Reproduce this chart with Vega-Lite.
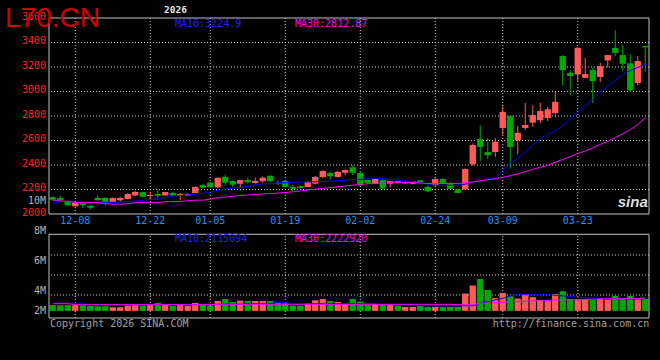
{
  "$schema": "https://vega.github.io/schema/vega-lite/v6.json",
  "width": 600,
  "height": 300,
  "autosize": {"type": "none"},
  "padding": {"left": 49, "top": 18, "right": 11, "bottom": 42},
  "background": "#000000",
  "config": {"view": {"stroke": null}, "font": "DejaVu Sans Mono"},
  "datasets": {
    "k": [
      {"d":"2025-12-03","o":2135,"h":2145,"l":2107,"c":2118,"v":1013000,"m10":2088,"m30":2114,"vm10":1315000,"vm30":1244000},
      {"d":"2025-12-04","o":2128,"h":2148,"l":2107,"c":2116,"v":924000,"m10":2100,"m30":2107,"vm10":1315000,"vm30":1244000},
      {"d":"2025-12-05","o":2104,"h":2107,"l":2066,"c":2072,"v":924000,"m10":2102,"m30":2104,"vm10":1315000,"vm30":1244000},
      {"d":"2025-12-08","o":2064,"h":2096,"l":2062,"c":2094,"v":924000,"m10":2094,"m30":2094,"vm10":1315000,"vm30":1066000},
      {"d":"2025-12-09","o":2086,"h":2091,"l":2050,"c":2072,"v":924000,"m10":2092,"m30":2094,"vm10":1315000,"vm30":1066000},
      {"d":"2025-12-10","o":2066,"h":2072,"l":2035,"c":2053,"v":835000,"m10":2092,"m30":2094,"vm10":960000,"vm30":1066000},
      {"d":"2025-12-11","o":2131,"h":2153,"l":2109,"c":2113,"v":746000,"m10":2093,"m30":2092,"vm10":960000,"vm30":1066000},
      {"d":"2025-12-12","o":2131,"h":2137,"l":2072,"c":2099,"v":746000,"m10":2095,"m30":2084,"vm10":960000,"vm30":1066000},
      {"d":"2025-12-15","o":2099,"h":2134,"l":2096,"c":2131,"v":569000,"m10":2096,"m30":2080,"vm10":960000,"vm30":1066000},
      {"d":"2025-12-16","o":2113,"h":2140,"l":2099,"c":2131,"v":569000,"m10":2097,"m30":2080,"vm10":960000,"vm30":1066000},
      {"d":"2025-12-17","o":2123,"h":2170,"l":2118,"c":2162,"v":924000,"m10":2100,"m30":2084,"vm10":960000,"vm30":1066000},
      {"d":"2025-12-18","o":2153,"h":2186,"l":2148,"c":2180,"v":1155000,"m10":2106,"m30":2092,"vm10":1066000,"vm30":1066000},
      {"d":"2025-12-19","o":2176,"h":2180,"l":2135,"c":2143,"v":871000,"m10":2112,"m30":2094,"vm10":1066000,"vm30":1066000},
      {"d":"2025-12-22","o":2147,"h":2176,"l":2113,"c":2155,"v":1155000,"m10":2118,"m30":2094,"vm10":1066000,"vm30":1066000},
      {"d":"2025-12-23","o":2162,"h":2194,"l":2127,"c":2151,"v":1368000,"m10":2122,"m30":2094,"vm10":1066000,"vm30":1066000},
      {"d":"2025-12-24","o":2153,"h":2180,"l":2151,"c":2178,"v":1191000,"m10":2137,"m30":2100,"vm10":1066000,"vm30":1066000},
      {"d":"2025-12-25","o":2172,"h":2180,"l":2149,"c":2153,"v":835000,"m10":2145,"m30":2102,"vm10":1066000,"vm30":1066000},
      {"d":"2025-12-26","o":2151,"h":2172,"l":2113,"c":2162,"v":1191000,"m10":2150,"m30":2102,"vm10":1066000,"vm30":1066000},
      {"d":"2025-12-29","o":2151,"h":2170,"l":2145,"c":2162,"v":835000,"m10":2155,"m30":2108,"vm10":1066000,"vm30":1066000},
      {"d":"2025-12-30","o":2172,"h":2224,"l":2170,"c":2221,"v":1368000,"m10":2162,"m30":2113,"vm10":1066000,"vm30":1066000},
      {"d":"2025-12-31","o":2235,"h":2243,"l":2207,"c":2215,"v":1191000,"m10":2168,"m30":2113,"vm10":1155000,"vm30":1066000},
      {"d":"2026-01-05","o":2255,"h":2260,"l":2213,"c":2219,"v":889000,"m10":2180,"m30":2121,"vm10":1155000,"vm30":1066000},
      {"d":"2026-01-06","o":2219,"h":2300,"l":2211,"c":2295,"v":1724000,"m10":2194,"m30":2133,"vm10":1155000,"vm30":1137000},
      {"d":"2026-01-07","o":2303,"h":2322,"l":2235,"c":2257,"v":2079000,"m10":2202,"m30":2139,"vm10":1155000,"vm30":1137000},
      {"d":"2026-01-08","o":2268,"h":2276,"l":2221,"c":2241,"v":1546000,"m10":2211,"m30":2145,"vm10":1155000,"vm30":1137000},
      {"d":"2026-01-09","o":2249,"h":2278,"l":2221,"c":2276,"v":1759000,"m10":2216,"m30":2151,"vm10":1155000,"vm30":1137000},
      {"d":"2026-01-12","o":2276,"h":2298,"l":2249,"c":2260,"v":1724000,"m10":2227,"m30":2155,"vm10":1244000,"vm30":1137000},
      {"d":"2026-01-13","o":2254,"h":2298,"l":2249,"c":2270,"v":1724000,"m10":2239,"m30":2160,"vm10":1244000,"vm30":1137000},
      {"d":"2026-01-14","o":2268,"h":2309,"l":2257,"c":2295,"v":1724000,"m10":2245,"m30":2164,"vm10":1244000,"vm30":1137000},
      {"d":"2026-01-15","o":2311,"h":2317,"l":2260,"c":2268,"v":1724000,"m10":2249,"m30":2167,"vm10":1244000,"vm30":1137000},
      {"d":"2026-01-16","o":2254,"h":2276,"l":2235,"c":2246,"v":1475000,"m10":2252,"m30":2171,"vm10":1493000,"vm30":1137000},
      {"d":"2026-01-19","o":2268,"h":2276,"l":2216,"c":2221,"v":1279000,"m10":2255,"m30":2176,"vm10":1493000,"vm30":1137000},
      {"d":"2026-01-20","o":2221,"h":2235,"l":2180,"c":2208,"v":889000,"m10":2257,"m30":2181,"vm10":1244000,"vm30":1137000},
      {"d":"2026-01-21","o":2224,"h":2233,"l":2208,"c":2213,"v":889000,"m10":2260,"m30":2188,"vm10":1244000,"vm30":1137000},
      {"d":"2026-01-22","o":2221,"h":2265,"l":2219,"c":2262,"v":1368000,"m10":2261,"m30":2198,"vm10":1244000,"vm30":1137000},
      {"d":"2026-01-23","o":2249,"h":2309,"l":2243,"c":2303,"v":1813000,"m10":2263,"m30":2202,"vm10":1244000,"vm30":1137000},
      {"d":"2026-01-26","o":2303,"h":2358,"l":2295,"c":2349,"v":2079000,"m10":2265,"m30":2209,"vm10":1244000,"vm30":1137000},
      {"d":"2026-01-27","o":2335,"h":2344,"l":2282,"c":2309,"v":1724000,"m10":2268,"m30":2215,"vm10":1244000,"vm30":1137000},
      {"d":"2026-01-28","o":2303,"h":2349,"l":2298,"c":2344,"v":1546000,"m10":2272,"m30":2222,"vm10":1244000,"vm30":1137000},
      {"d":"2026-01-29","o":2339,"h":2363,"l":2317,"c":2358,"v":1191000,"m10":2276,"m30":2229,"vm10":1244000,"vm30":1137000},
      {"d":"2026-01-30","o":2380,"h":2398,"l":2317,"c":2339,"v":2079000,"m10":2281,"m30":2235,"vm10":1244000,"vm30":1137000},
      {"d":"2026-02-02","o":2335,"h":2352,"l":2227,"c":2235,"v":1599000,"m10":2282,"m30":2241,"vm10":1244000,"vm30":1137000},
      {"d":"2026-02-03","o":2276,"h":2284,"l":2243,"c":2255,"v":1066000,"m10":2286,"m30":2247,"vm10":1244000,"vm30":1137000},
      {"d":"2026-02-04","o":2251,"h":2295,"l":2245,"c":2290,"v":1191000,"m10":2290,"m30":2250,"vm10":1244000,"vm30":1137000},
      {"d":"2026-02-05","o":2276,"h":2284,"l":2194,"c":2211,"v":1191000,"m10":2290,"m30":2252,"vm10":1066000,"vm30":1137000},
      {"d":"2026-02-06","o":2249,"h":2272,"l":2219,"c":2268,"v":1191000,"m10":2282,"m30":2255,"vm10":1066000,"vm30":1137000},
      {"d":"2026-02-09","o":2268,"h":2276,"l":2243,"c":2254,"v":889000,"m10":2276,"m30":2256,"vm10":1066000,"vm30":1137000},
      {"d":"2026-02-10","o":2251,"h":2268,"l":2243,"c":2262,"v":657000,"m10":2270,"m30":2257,"vm10":1066000,"vm30":1137000},
      {"d":"2026-02-11","o":2249,"h":2272,"l":2243,"c":2268,"v":657000,"m10":2265,"m30":2257,"vm10":1066000,"vm30":1137000},
      {"d":"2026-02-12","o":2273,"h":2276,"l":2251,"c":2260,"v":889000,"m10":2255,"m30":2253,"vm10":889000,"vm30":1137000},
      {"d":"2026-02-13","o":2221,"h":2235,"l":2178,"c":2186,"v":657000,"m10":2243,"m30":2249,"vm10":889000,"vm30":1137000},
      {"d":"2026-02-24","o":2235,"h":2303,"l":2227,"c":2284,"v":657000,"m10":2235,"m30":2249,"vm10":889000,"vm30":1137000},
      {"d":"2026-02-25","o":2284,"h":2295,"l":2243,"c":2249,"v":657000,"m10":2235,"m30":2249,"vm10":889000,"vm30":1137000},
      {"d":"2026-02-26","o":2249,"h":2262,"l":2200,"c":2208,"v":657000,"m10":2235,"m30":2249,"vm10":889000,"vm30":1137000},
      {"d":"2026-02-27","o":2200,"h":2202,"l":2170,"c":2172,"v":657000,"m10":2235,"m30":2249,"vm10":889000,"vm30":1066000},
      {"d":"2026-03-02","o":2202,"h":2374,"l":2194,"c":2366,"v":3021000,"m10":2243,"m30":2255,"vm10":889000,"vm30":1066000},
      {"d":"2026-03-03","o":2407,"h":2576,"l":2393,"c":2562,"v":4443000,"m10":2255,"m30":2262,"vm10":889000,"vm30":1066000},
      {"d":"2026-03-04","o":2611,"h":2725,"l":2433,"c":2548,"v":5633000,"m10":2272,"m30":2271,"vm10":1315000,"vm30":1315000},
      {"d":"2026-03-05","o":2504,"h":2621,"l":2447,"c":2480,"v":3678000,"m10":2287,"m30":2280,"vm10":1599000,"vm30":1368000},
      {"d":"2026-03-06","o":2507,"h":2621,"l":2466,"c":2589,"v":2186000,"m10":2300,"m30":2288,"vm10":1901000,"vm30":1422000},
      {"d":"2026-03-09","o":2703,"h":2880,"l":2643,"c":2831,"v":3145000,"m10":2353,"m30":2300,"vm10":2203000,"vm30":1510000},
      {"d":"2026-03-10","o":2798,"h":2805,"l":2371,"c":2548,"v":2577000,"m10":2415,"m30":2313,"vm10":2612000,"vm30":1599000},
      {"d":"2026-03-11","o":2602,"h":2717,"l":2488,"c":2662,"v":2132000,"m10":2455,"m30":2328,"vm10":2843000,"vm30":1635000},
      {"d":"2026-03-12","o":2703,"h":2907,"l":2684,"c":2725,"v":2968000,"m10":2509,"m30":2346,"vm10":2843000,"vm30":1670000},
      {"d":"2026-03-13","o":2747,"h":2888,"l":2711,"c":2806,"v":2363000,"m10":2562,"m30":2364,"vm10":2843000,"vm30":1724000},
      {"d":"2026-03-16","o":2766,"h":2907,"l":2744,"c":2839,"v":1901000,"m10":2615,"m30":2382,"vm10":2843000,"vm30":1777000},
      {"d":"2026-03-17","o":2784,"h":2874,"l":2760,"c":2853,"v":1688000,"m10":2651,"m30":2398,"vm10":2843000,"vm30":1830000},
      {"d":"2026-03-18","o":2825,"h":2997,"l":2788,"c":2915,"v":2968000,"m10":2680,"m30":2423,"vm10":2754000,"vm30":1901000},
      {"d":"2026-03-19","o":3288,"h":3296,"l":3051,"c":3174,"v":3430000,"m10":2721,"m30":2445,"vm10":2630000,"vm30":1919000},
      {"d":"2026-03-20","o":3152,"h":3174,"l":2970,"c":3127,"v":2079000,"m10":2780,"m30":2468,"vm10":2488000,"vm30":1937000},
      {"d":"2026-03-23","o":3141,"h":3364,"l":3086,"c":3356,"v":2079000,"m10":2831,"m30":2493,"vm10":2363000,"vm30":1955000},
      {"d":"2026-03-24","o":3114,"h":3274,"l":3106,"c":3141,"v":2044000,"m10":2884,"m30":2515,"vm10":2275000,"vm30":1990000},
      {"d":"2026-03-25","o":3174,"h":3196,"l":2907,"c":3086,"v":1901000,"m10":2937,"m30":2540,"vm10":2239000,"vm30":2044000},
      {"d":"2026-03-26","o":3119,"h":3233,"l":3078,"c":3206,"v":2044000,"m10":2998,"m30":2568,"vm10":2203000,"vm30":2079000},
      {"d":"2026-03-27","o":3255,"h":3296,"l":3196,"c":3296,"v":1955000,"m10":3041,"m30":2594,"vm10":2185000,"vm30":2097000},
      {"d":"2026-03-30","o":3356,"h":3500,"l":3288,"c":3315,"v":2612000,"m10":3090,"m30":2623,"vm10":2168000,"vm30":2115000},
      {"d":"2026-03-31","o":3296,"h":3378,"l":3168,"c":3228,"v":2044000,"m10":3141,"m30":2655,"vm10":2150000,"vm30":2132000},
      {"d":"2026-04-01","o":3228,"h":3304,"l":2997,"c":3011,"v":2612000,"m10":3172,"m30":2688,"vm10":2132000,"vm30":2168000},
      {"d":"2026-04-02","o":3070,"h":3288,"l":3051,"c":3247,"v":2008000,"m10":3196,"m30":2730,"vm10":2120000,"vm30":2186000},
      {"d":"2026-04-03","o":3370,"h":3372,"l":3160,"c":3362,"v":2079000,"m10":3225,"m30":2785,"vm10":2115000,"vm30":2223000}
    ],
    "pl": [
      {"p":2000,"t":"2000"},{"p":2200,"t":"2200"},{"p":2400,"t":"2400"},{"p":2600,"t":"2600"},
      {"p":2800,"t":"2800"},{"p":3000,"t":"3000"},{"p":3200,"t":"3200"},{"p":3400,"t":"3400"},{"p":3600,"t":"3600"}
    ],
    "dl": [
      {"d":"2025-12-08","t":"12-08"},{"d":"2025-12-22","t":"12-22"},{"d":"2026-01-05","t":"01-05"},{"d":"2026-01-19","t":"01-19"},
      {"d":"2026-02-02","t":"02-02"},{"d":"2026-02-24","t":"02-24"},{"d":"2026-03-09","t":"03-09"},{"d":"2026-03-23","t":"03-23"}
    ],
    "vg": [{"v":2790000},{"v":6344000},{"v":9898000}],
    "vl": [
      {"t":"10M","v":19547000},
      {"t":"8M","v":14216000},
      {"t":"6M","v":8885000},
      {"t":"4M","v":3554000},
      {"t":"2M","v":0}
    ]
  },
  "layer": [
    {
      "data": {"name": "k"},
      "layer": [
        {
          "mark": {"type": "bar", "size": 6},
          "encoding": {
            "x": {"field": "d", "type": "ordinal", "scale": {"type": "band", "paddingInner": 0, "paddingOuter": 0}, "axis": null},
            "y": {"field": "o", "type": "quantitative", "scale": {"domain": [2000, 3600], "range": [196, 0], "nice": false, "zero": false}, "axis": null},
            "y2": {"field": "c"},
            "color": {"condition": {"test": "datum.c >= datum.o", "value": "#ff5a5a"}, "value": "#00a800"}
          }
        },
        {
          "data": {"name": "pl"},
          "transform": [{"filter": "datum.p > 2000 && datum.p < 3600"}],
          "mark": {"type": "rule", "color": "#d0d0d0", "strokeDash": [1, 2], "strokeWidth": 1},
          "encoding": {"y": {"field": "p", "type": "quantitative", "axis": null}}
        },
        {
          "data": {"name": "dl"},
          "mark": {"type": "rule", "color": "#d0d0d0", "strokeDash": [1, 2], "strokeWidth": 1},
          "encoding": {
            "x": {"field": "d", "type": "ordinal", "axis": null},
            "y": {"datum": 2000, "axis": null},
            "y2": {"datum": 3600}
          }
        },
        {
          "mark": {"type": "rule", "strokeWidth": 1},
          "encoding": {
            "x": {"field": "d", "type": "ordinal", "axis": null},
            "y": {"field": "l", "type": "quantitative", "axis": null},
            "y2": {"field": "h"},
            "color": {"condition": {"test": "datum.c >= datum.o", "value": "#ff5a5a"}, "value": "#00a800"}
          }
        },
        {
          "mark": {"type": "bar", "size": 6},
          "encoding": {
            "x": {"field": "d", "type": "ordinal", "axis": null},
            "y": {"field": "o", "type": "quantitative", "axis": null},
            "y2": {"field": "c"},
            "color": {"condition": {"test": "datum.c >= datum.o", "value": "#ff5a5a"}, "value": "#00a800"}
          }
        },
        {
          "mark": {"type": "line", "color": "#0000ff", "strokeWidth": 1},
          "encoding": {
            "x": {"field": "d", "type": "ordinal", "axis": null},
            "y": {"field": "m10", "type": "quantitative", "axis": null}
          }
        },
        {
          "mark": {"type": "line", "color": "#ff00ff", "strokeWidth": 1},
          "encoding": {
            "x": {"field": "d", "type": "ordinal", "axis": null},
            "y": {"field": "m30", "type": "quantitative", "axis": null}
          }
        },
        {
          "data": {"values": [{}]},
          "mark": {"type": "rule", "color": "#c0c0c0", "strokeWidth": 1},
          "encoding": {"y": {"datum": 3600, "axis": null}}
        },
        {
          "data": {"values": [{}]},
          "mark": {"type": "rule", "color": "#c0c0c0", "strokeWidth": 1},
          "encoding": {"y": {"datum": 2000, "axis": null}}
        },
        {
          "data": {"values": [{}]},
          "mark": {"type": "rule", "color": "#c0c0c0", "strokeWidth": 1},
          "encoding": {
            "x": {"datum": "2026-04-03", "type": "ordinal", "bandPosition": 1, "axis": null},
            "y": {"datum": 2000, "axis": null},
            "y2": {"datum": 3600}
          }
        },
        {
          "data": {"values": [{}]},
          "mark": {"type": "rule", "color": "#c0c0c0", "strokeWidth": 1},
          "encoding": {
            "x": {"datum": "2025-12-03", "type": "ordinal", "bandPosition": 0, "axis": null},
            "y": {"datum": 2000, "axis": null},
            "y2": {"datum": 3600}
          }
        },
        {
          "data": {"name": "pl"},
          "mark": {"type": "text", "font": "DejaVu Sans Mono", "fontSize": 10, "color": "#ff2020", "align": "right", "baseline": "middle", "dx": -6.75, "dy": -1.5},
          "encoding": {
            "x": {"datum": "2025-12-03", "type": "ordinal", "axis": null},
            "y": {"field": "p", "type": "quantitative", "axis": null},
            "text": {"field": "t"}
          }
        },
        {
          "data": {"name": "dl"},
          "mark": {"type": "text", "font": "DejaVu Sans Mono", "fontSize": 10, "color": "#1e90ff", "align": "center", "baseline": "alphabetic", "dy": 10},
          "encoding": {
            "x": {"field": "d", "type": "ordinal", "axis": null},
            "y": {"datum": 2000, "axis": null},
            "text": {"field": "t"}
          }
        },
        {
          "data": {"values": [{}]},
          "mark": {"type": "text", "text": "L70.CN", "font": "Liberation Sans", "fontSize": 28, "color": "#d40000", "align": "left", "baseline": "alphabetic", "dx": -47.75, "dy": 9},
          "encoding": {"x": {"datum": "2025-12-03", "type": "ordinal", "axis": null}, "y": {"datum": 3600, "axis": null}}
        },
        {
          "data": {"values": [{}]},
          "mark": {"type": "text", "text": "2026", "font": "DejaVu Sans Mono", "fontSize": 9.5, "fontWeight": "bold", "color": "#e8e8e8", "align": "center", "baseline": "alphabetic", "dx": 122.75, "dy": -4.7},
          "encoding": {"x": {"datum": "2025-12-03", "type": "ordinal", "axis": null}, "y": {"datum": 3600, "axis": null}}
        },
        {
          "data": {"values": [{}]},
          "mark": {"type": "text", "text": "MA10:3224.9", "font": "DejaVu Sans Mono", "fontSize": 10, "color": "#2020ff", "align": "left", "baseline": "alphabetic", "dx": 122.25, "dy": 9},
          "encoding": {"x": {"datum": "2025-12-03", "type": "ordinal", "axis": null}, "y": {"datum": 3600, "axis": null}}
        },
        {
          "data": {"values": [{}]},
          "mark": {"type": "text", "text": "MA30:2812.87", "font": "DejaVu Sans Mono", "fontSize": 10, "color": "#ff00ff", "align": "left", "baseline": "alphabetic", "dx": 242.25, "dy": 9},
          "encoding": {"x": {"datum": "2025-12-03", "type": "ordinal", "axis": null}, "y": {"datum": 3600, "axis": null}}
        },
        {
          "data": {"values": [{}]},
          "mark": {"type": "text", "text": "sina", "font": "Liberation Sans", "fontSize": 15, "fontWeight": "bold", "fontStyle": "italic", "color": "#dcdcdc", "align": "right", "baseline": "alphabetic", "dx": 2.5, "dy": -7},
          "encoding": {"x": {"datum": "2026-04-03", "type": "ordinal", "axis": null}, "y": {"datum": 2000, "axis": null}}
        }
      ]
    },
    {
      "data": {"name": "k"},
      "layer": [
        {
          "mark": {"type": "bar", "size": 6},
          "encoding": {
            "x": {"field": "d", "type": "ordinal", "axis": null},
            "y": {"field": "v", "type": "quantitative", "scale": {"domain": [-1297000, 13576000], "range": [300, 216.3], "nice": false, "zero": false}, "axis": null},
            "y2": {"datum": 0},
            "color": {"condition": {"test": "datum.c >= datum.o", "value": "#ff5a5a"}, "value": "#00a800"}
          }
        },
        {
          "data": {"name": "vg"},
          "mark": {"type": "rule", "color": "#d0d0d0", "strokeDash": [1, 2], "strokeWidth": 1},
          "encoding": {"y": {"field": "v", "type": "quantitative", "axis": null}}
        },
        {
          "data": {"name": "dl"},
          "mark": {"type": "rule", "color": "#d0d0d0", "strokeDash": [1, 2], "strokeWidth": 1},
          "encoding": {
            "x": {"field": "d", "type": "ordinal", "axis": null},
            "y": {"datum": -1297000, "axis": null},
            "y2": {"datum": 13576000}
          }
        },
        {
          "mark": {"type": "bar", "size": 6},
          "encoding": {
            "x": {"field": "d", "type": "ordinal", "axis": null},
            "y": {"field": "v", "type": "quantitative", "axis": null},
            "y2": {"datum": 0},
            "color": {"condition": {"test": "datum.c >= datum.o", "value": "#ff5a5a"}, "value": "#00a800"}
          }
        },
        {
          "mark": {"type": "line", "color": "#0000ff", "strokeWidth": 1},
          "encoding": {
            "x": {"field": "d", "type": "ordinal", "axis": null},
            "y": {"field": "vm10", "type": "quantitative", "axis": null}
          }
        },
        {
          "mark": {"type": "line", "color": "#ff00ff", "strokeWidth": 1},
          "encoding": {
            "x": {"field": "d", "type": "ordinal", "axis": null},
            "y": {"field": "vm30", "type": "quantitative", "axis": null}
          }
        },
        {
          "data": {"values": [{}]},
          "mark": {"type": "rule", "color": "#c0c0c0", "strokeWidth": 1},
          "encoding": {"y": {"datum": 13576000, "axis": null}}
        },
        {
          "data": {"values": [{}]},
          "mark": {"type": "rule", "color": "#c0c0c0", "strokeWidth": 1},
          "encoding": {"y": {"datum": -1297000, "axis": null}}
        },
        {
          "data": {"values": [{}]},
          "mark": {"type": "rule", "color": "#c0c0c0", "strokeWidth": 1},
          "encoding": {
            "x": {"datum": "2026-04-03", "type": "ordinal", "bandPosition": 1, "axis": null},
            "y": {"datum": -1297000, "axis": null},
            "y2": {"datum": 13576000}
          }
        },
        {
          "data": {"values": [{}]},
          "mark": {"type": "rule", "color": "#c0c0c0", "strokeWidth": 1},
          "encoding": {
            "x": {"datum": "2025-12-03", "type": "ordinal", "bandPosition": 0, "axis": null},
            "y": {"datum": -1297000, "axis": null},
            "y2": {"datum": 13576000}
          }
        },
        {
          "data": {"name": "vl"},
          "mark": {"type": "text", "font": "DejaVu Sans Mono", "fontSize": 10, "color": "#b4b4b4", "align": "right", "baseline": "middle", "dx": -6.75},
          "encoding": {
            "x": {"datum": "2025-12-03", "type": "ordinal", "axis": null},
            "y": {"field": "v", "type": "quantitative", "axis": null},
            "text": {"field": "t"}
          }
        },
        {
          "data": {"values": [{}]},
          "mark": {"type": "text", "text": "MA10:2115094", "font": "DejaVu Sans Mono", "fontSize": 10, "color": "#2020ff", "align": "left", "baseline": "alphabetic", "dx": 122.25},
          "encoding": {"x": {"datum": "2025-12-03", "type": "ordinal", "axis": null}, "y": {"datum": 12261000, "axis": null}}
        },
        {
          "data": {"values": [{}]},
          "mark": {"type": "text", "text": "MA30:2222920", "font": "DejaVu Sans Mono", "fontSize": 10, "color": "#ff00ff", "align": "left", "baseline": "alphabetic", "dx": 242.25},
          "encoding": {"x": {"datum": "2025-12-03", "type": "ordinal", "axis": null}, "y": {"datum": 12261000, "axis": null}}
        },
        {
          "data": {"values": [{}]},
          "mark": {"type": "text", "text": "Copyright 2026 SINA.COM", "font": "DejaVu Sans Mono", "fontSize": 10, "color": "#a0a0a0", "align": "left", "baseline": "alphabetic", "dx": -2.75},
          "encoding": {"x": {"datum": "2025-12-03", "type": "ordinal", "axis": null}, "y": {"datum": -2897000, "axis": null}}
        },
        {
          "data": {"values": [{}]},
          "mark": {"type": "text", "text": "http://finance.sina.com.cn", "font": "DejaVu Sans Mono", "fontSize": 10, "color": "#a0a0a0", "align": "right", "baseline": "alphabetic", "dx": 4},
          "encoding": {"x": {"datum": "2026-04-03", "type": "ordinal", "axis": null}, "y": {"datum": -2897000, "axis": null}}
        }
      ]
    }
  ],
  "resolve": {"scale": {"y": "independent"}, "axis": {"y": "independent"}}
}
